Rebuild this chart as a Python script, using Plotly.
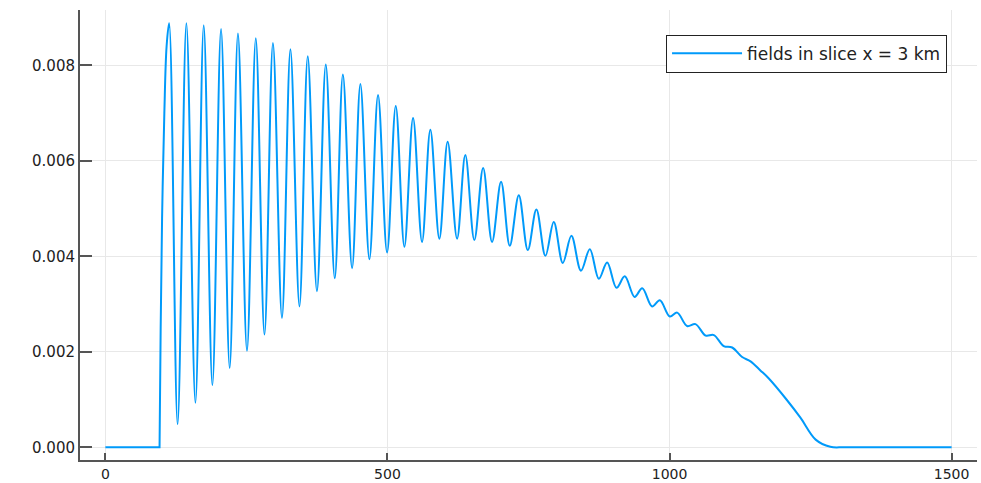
import plotly.graph_objects as go

# Key points (x, field value)
x_vals = [0, 60, 96, 98,
          100.5, 104.5, 108.5, 113,
          128, 143.6, 159.6, 174.3, 189.7, 205, 220.3, 235, 251, 266.6,
          282, 297, 313, 328, 344, 358.7, 375, 390.7, 406.6, 421,
          437.3, 452, 468, 483.3, 499.3, 514.7, 530, 545.4, 561.3, 576,
          592, 606.7, 623.4, 638, 654, 669.6, 685.4, 701.4, 716.8, 732.8,
          748.8, 764, 780, 794.8, 810.8, 826, 843, 858.7, 874.7, 889.4,
          906, 920.7, 938, 951.6, 969, 982.8, 1000.5, 1013.6, 1031, 1046,
          1064, 1078.6, 1096, 1111, 1128.7, 1143.6, 1161, 1176, 1208,
          1232, 1259, 1285, 1310, 1400, 1500]
y_vals = [0, 0, 0, 0.0025,
          0.0048, 0.0070, 0.0084, 0.00888,
          0.00048, 0.00888, 0.00093, 0.00884, 0.00130, 0.00876, 0.00166, 0.00867, 0.00202, 0.00857,
          0.00236, 0.00847, 0.00271, 0.00834, 0.00295, 0.00819, 0.00327, 0.00802, 0.00354, 0.00781,
          0.00375, 0.00761, 0.00394, 0.00738, 0.00408, 0.00715, 0.00420, 0.00690, 0.00430, 0.00665,
          0.00437, 0.00640, 0.00437, 0.00612, 0.00434, 0.00585, 0.00430, 0.00556, 0.00422, 0.00528,
          0.00413, 0.00498, 0.00401, 0.00472, 0.00386, 0.00443, 0.00370, 0.00415, 0.00353, 0.00387,
          0.00334, 0.00358, 0.00315, 0.00333, 0.00295, 0.00308, 0.00274, 0.00282, 0.00254, 0.00258,
          0.00234, 0.00235, 0.00212, 0.00209, 0.00189, 0.00180, 0.00161, 0.00144, 0.00099,
          0.00062, 0.00016, 0.00001, 0, 0, 0]

series_name = "fields in slice x = 3 km"
x_ticks = [0, 500, 1000, 1500]
y_ticks = [0.0, 0.002, 0.004, 0.006, 0.008]
y_tick_text = ["0.000", "0.002", "0.004", "0.006", "0.008"]

LINE_COLOR = "#009AFA"
split = 3  # flat start + steep onset drawn straight, remainder smoothed

fig = go.Figure()
fig.add_trace(go.Scatter(
    x=x_vals[:split + 1], y=y_vals[:split + 1], mode="lines", name=series_name,
    line=dict(color=LINE_COLOR, width=2), showlegend=False, legendgroup="s",
))
fig.add_trace(go.Scatter(
    x=x_vals[split:], y=y_vals[split:], mode="lines", name=series_name,
    line=dict(color=LINE_COLOR, width=2, shape="spline", smoothing=1.0),
    legendgroup="s",
))

axis_common = dict(
    showline=True, linecolor="#555555", linewidth=2,
    showgrid=True, gridcolor="#e8e8e8", gridwidth=1,
    zeroline=False, ticks="inside", tickcolor="#555555", tickwidth=2,
    mirror=False, automargin=False,
)

fig.update_layout(
    width=981, height=483,
    margin=dict(l=80, r=4, t=10, b=23),
    paper_bgcolor="white", plot_bgcolor="white",
    showlegend=True,
    legend=dict(
        x=0.9666, y=0.945, xanchor="right", yanchor="top",
        bgcolor="white", bordercolor="#222222", borderwidth=1,
        itemwidth=70,
        font=dict(family="DejaVu Sans", size=17, color="#222222"),
    ),
    xaxis=dict(range=[-45, 1545], tickvals=x_ticks, ticklen=7,
               tickfont=dict(family="DejaVu Sans", size=14, color="#222222"),
               **axis_common),
    yaxis=dict(range=[-0.000267, 0.00916], tickvals=y_ticks, ticktext=y_tick_text,
               ticklen=12, tickfont=dict(family="DejaVu Sans", size=15, color="#222222"),
               **axis_common),
)

fig.write_html("out.html")
